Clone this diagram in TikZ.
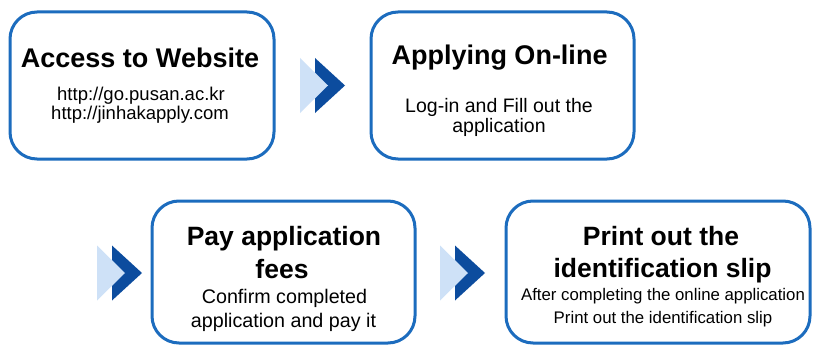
\documentclass[tikz,border=0pt]{standalone}
\usepackage{fontspec}
\setmainfont{Liberation Sans}
\definecolor{bordblue}{RGB}{28,108,190}
\definecolor{darkchev}{RGB}{12,76,158}
\definecolor{lightchev}{RGB}{206,225,247}
\begin{document}
\begin{tikzpicture}[x=1pt,y=-1pt,
  box/.style={draw=bordblue, line width=3pt, rounded corners=27pt, fill=white, inner sep=0pt},
  ttl/.style={font=\fontsize{27}{30}\selectfont\bfseries, anchor=base, inner sep=0pt},
  ttlb/.style={font=\fontsize{26.5}{30}\selectfont\bfseries, anchor=base, inner sep=0pt},
  subtxt/.style={anchor=base, inner sep=0pt},
  chevron/.pic={
    \fill[darkchev] (15,0) -- (45,27.5) -- (15,55) -- cycle;
    \fill[lightchev] (0,0) -- (28,27.5) -- (0,55) -- cycle;
  }]
\useasboundingbox (0,0) rectangle (813,345);
\fill[white] (0,0) rectangle (813,345);

% boxes
\node[box, minimum width=264pt, minimum height=147pt] (b1) at (142,85.5) {};
\node[box, minimum width=263pt, minimum height=147pt] (b2) at (502.5,85.5) {};
\node[box, minimum width=263pt, minimum height=142pt] (b3) at (283.5,272) {};
\node[box, minimum width=304pt, minimum height=142pt] (b4) at (658,272) {};

% chevrons
\pic (c1) at (300,58) {chevron};
\pic (c2) at (97,245.5) {chevron};
\pic (c3) at (440,245.5) {chevron};

% box 1
\node[ttl] (t1) at (140,67) {Access to Website};
\node[subtxt, font=\fontsize{18.5}{20}\selectfont] (u1) at (141,100) {http://go.pusan.ac.kr};
\node[subtxt, font=\fontsize{18.5}{20}\selectfont] (u2) at (140,119) {http://jinhakapply.com};

% box 2
\node[ttl] (t2) at (499.5,64) {Applying On-line};
\node[subtxt, font=\fontsize{19.5}{21}\selectfont] (s2a) at (499,112) {Log-in and Fill out the};
\node[subtxt, font=\fontsize{19.5}{21}\selectfont] (s2b) at (499,132) {application};

% box 3
\node[ttlb] (t3a) at (284,245) {Pay application};
\node[ttlb] (t3b) at (282,278) {fees};
\node[subtxt, font=\fontsize{19.7}{21}\selectfont] (s3a) at (284.5,303) {Confirm completed};
\node[subtxt, font=\fontsize{19.7}{21}\selectfont] (s3b) at (283.5,327) {application and pay it};

% box 4
\node[ttlb] (t4a) at (661,245) {Print out the};
\node[ttlb] (t4b) at (662.5,277) {identification slip};
\node[subtxt, font=\fontsize{16.8}{18}\selectfont] (s4a) at (663,300) {After completing the online application};
\node[subtxt, font=\fontsize{16.8}{18}\selectfont] (s4b) at (663,323) {Print out the identification slip};
\end{tikzpicture}
\end{document}
